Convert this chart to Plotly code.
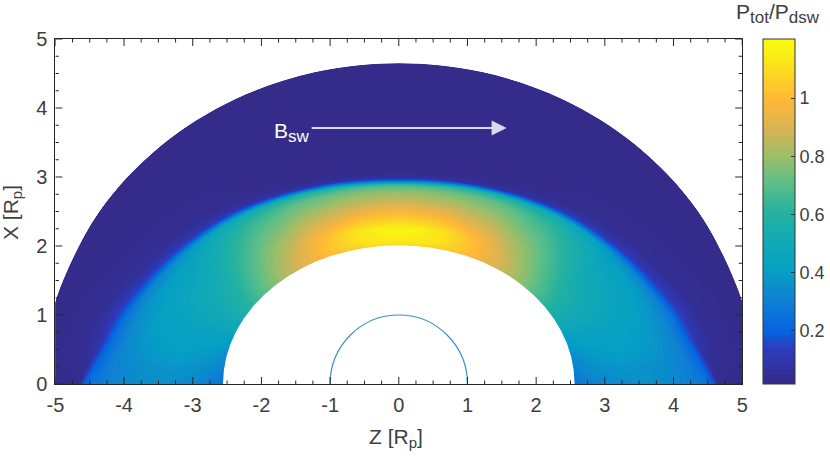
import plotly.graph_objects as go
import numpy as np

# Rows: angle from the +X axis (deg), one side; the other side mirrors it
angles = [0, 15, 30, 45, 60, 75, 82, 86, 90]
# Position of the bow shock along each row (R_p)
shock_r = [2.93, 3.00, 3.17, 3.43, 3.74, 4.13, 4.31, 4.48, 4.62]
# Fractions: inner boundary -> shock, then shock -> outer boundary
layer_in = [0, .1, .25, .4, .55, .7, .85, .95, 1]
layer_out = [.03, .08, .15, .3, .6, 1]
# Ptot/Pdsw
ptot = [
    [1.08, 1.15, 1.18, 1.07, .97, .87, .78, .66, .30, .08, .03, .025, .025, .025, .025],
    [1.05, 1.12, 1.13, 1.03, .93, .84, .75, .62, .28, .07, .03, .025, .025, .025, .025],
    [.98, 1.00, .98, .92, .85, .78, .70, .58, .27, .08, .035, .025, .025, .025, .025],
    [.85, .84, .80, .76, .71, .66, .59, .49, .27, .14, .07, .04, .03, .025, .025],
    [.64, .63, .59, .55, .51, .47, .42, .35, .22, .15, .10, .06, .035, .025, .025],
    [.40, .42, .43, .43, .42, .40, .35, .27, .18, .16, .13, .09, .05, .03, .025],
    [.33, .36, .39, .40, .39, .37, .32, .24, .17, .15, .11, .08, .05, .03, .025],
    [.29, .33, .36, .37, .36, .34, .30, .22, .13, .08, .06, .05, .04, .03, .025],
    [.25, .29, .33, .35, .35, .33, .29, .24, .14, .05, .03, .025, .025, .025, .025],
]
x_ticks = [-5, -4, -3, -2, -1, 0, 1, 2, 3, 4, 5]
x_labels = ["-5", "-4", "-3", "-2", "-1", "0", "1", "2", "3", "4", "5"]
y_ticks = [0, 1, 2, 3, 4, 5]
colorbar_ticks = [0.2, 0.4, 0.6, 0.8, 1]
colorbar_labels = ["0.2", "0.4", "0.6", "0.8", "1"]
parula = [
    [0, "rgb(53,42,135)"], [.106, "rgb(45,60,190)"], [.155, "rgb(5,100,225)"],
    [.25, "rgb(15,130,210)"], [.33, "rgb(5,160,195)"], [.425, "rgb(20,170,180)"],
    [.496, "rgb(35,178,160)"], [.59, "rgb(95,190,135)"], [.665, "rgb(155,190,105)"],
    [.744, "rgb(215,180,85)"], [.83, "rgb(255,183,55)"], [.93, "rgb(250,225,30)"],
    [1, "rgb(249,251,14)"],
]
ZMIN, ZMAX = 0.017, 1.203

# Geometry of the grid
th_half = np.radians(angles)
th = np.concatenate([-th_half[:0:-1], th_half])
sh = np.array(shock_r[:0:-1] + shock_r)
vals = np.array(ptot[:0:-1] + ptot)


def ellipse(a, b, t):
    return 1 / np.sqrt((np.sin(t) / a) ** 2 + (np.cos(t) / b) ** 2)


r_in = ellipse(2.55, 2.0, th)
r_out = ellipse(5.17, 4.65, th)
ri = np.outer(r_in, 1 - np.array(layer_in)) + np.outer(sh, layer_in)
ro = np.outer(sh, 1 - np.array(layer_out)) + np.outer(r_out, layer_out)
rr = np.hstack([ri, ro])
Z = rr * np.sin(th)[:, None]
X = rr * np.cos(th)[:, None]
aa = list(range(rr.shape[1]))
bb = list(range(rr.shape[0]))

W, H = 830, 459
L, R, T, B = 55.5, 744, 39, 384
TXT = "#404040"
TICK = "#262626"
FONT = "Liberation Sans"
hidden = dict(showgrid=False, startline=False, endline=False, showticklabels="none",
              smoothing=1, minorgridcount=0)
fig = go.Figure()
fig.add_trace(go.Carpet(a=aa, b=bb, x=Z.tolist(), y=X.tolist(), carpet="c", aaxis=hidden, baxis=hidden))
fig.add_trace(go.Contourcarpet(
    a=aa, b=bb, z=vals.tolist(), carpet="c",
    autocontour=False, contours=dict(start=ZMIN, end=ZMAX, size=0.012, coloring="fill", showlines=False),
    line=dict(width=0), colorscale=parula, zmin=ZMIN, zmax=ZMAX,
    colorbar=dict(
        x=765 / W, xanchor="left", xref="paper", y=(H - B) / H, yanchor="bottom", yref="paper",
        len=(B - T) / H, lenmode="fraction", thickness=32, thicknessmode="pixels",
        tickmode="array", tickvals=colorbar_ticks, ticktext=colorbar_labels, tickprefix="\u00a0",
        ticks="inside", ticklen=4, tickcolor="#333", outlinecolor="#333", outlinewidth=1,
        tickfont=dict(family=FONT, size=18, color=TXT), xpad=0, ypad=0,
    ),
))


def tick_shapes():
    out = []
    line = dict(color=TICK, width=1)
    for k in range(41):
        v = -5 + k * 0.25
        n = 7 if k % 4 == 0 else 3.5
        for anchor, sign in ((0, 1), (5, -1)):
            out.append(dict(type="line", xref="x", yref="y", x0=v, x1=v, ysizemode="pixel",
                            yanchor=anchor, y0=0, y1=sign * n, line=line))
    for k in range(21):
        v = k * 0.25
        n = 7 if k % 4 == 0 else 3.5
        for anchor, sign in ((-5, 1), (5, -1)):
            out.append(dict(type="line", xref="x", yref="y", y0=v, y1=v, xsizemode="pixel",
                            xanchor=anchor, x0=0, x1=sign * n, line=line))
    return out


axis = dict(
    showgrid=False, zeroline=False, showline=True, linecolor=TICK, linewidth=1, mirror=True,
    ticks="", ticklabelstandoff=3,
    tickfont=dict(family=FONT, size=20, color=TXT), automargin=False, layer="above traces",
)
fig.update_layout(
    width=W, height=H, margin=dict(l=0, r=0, t=0, b=0), autosize=False,
    paper_bgcolor="white", plot_bgcolor="white", showlegend=False,
    xaxis=dict(axis, range=[-5, 5], tickmode="array", tickvals=x_ticks, ticktext=x_labels, tickangle=0,
               domain=[L / W, R / W]),
    yaxis=dict(axis, range=[0, 5], tickmode="array", tickvals=y_ticks,
               domain=[(H - B) / H, (H - T) / H]),
    shapes=[
        dict(type="circle", xref="x", yref="y", x0=-2.56, x1=2.56, y0=-2.01, y1=2.01,
             fillcolor="white", line=dict(width=0)),
        dict(type="circle", xref="x", yref="y", x0=-1, x1=1, y0=-1, y1=1,
             line=dict(color="#3d8fd1", width=1.2)),
    ] + tick_shapes(),
    annotations=[
        dict(x=1.57, y=3.71, ax=-1.29, ay=3.71, xref="x", yref="y", axref="x", ayref="y",
             text="", showarrow=True, arrowhead=2, arrowsize=1.5, arrowwidth=2, arrowcolor="#dcd8ee"),
        dict(x=-1.27, y=3.64, xref="x", yref="y", xanchor="right", yanchor="middle", showarrow=False,
             text="B<sub><span style='font-size:17px'>sw</span></sub>", font=dict(family=FONT, size=21, color="white")),
        dict(x=780 / W, y=(H - 29) / H, xref="paper", yref="paper", xanchor="center", yanchor="bottom", showarrow=False,
             text="P<sub><span style='font-size:17px'>tot</span></sub>/P<sub><span style='font-size:17px'>dsw</span></sub>",
             font=dict(family=FONT, size=21, color=TXT)),
        dict(x=397 / W, y=(H - 438) / H, xref="paper", yref="paper", xanchor="center", yanchor="middle", showarrow=False,
             text="Z [R<sub><span style='font-size:15px'>p</span></sub>]", font=dict(family=FONT, size=21, color=TXT)),
        dict(x=12 / W, y=(H - 212) / H, xref="paper", yref="paper", xanchor="center", yanchor="middle", showarrow=False,
             textangle=-90, text="X [R<sub><span style='font-size:15px'>p</span></sub>]", font=dict(family=FONT, size=21, color=TXT)),
    ],
)
fig.write_html("out.html", config=dict(displayModeBar=False),
               post_script="document.body.style.margin='0';document.documentElement.style.overflow='hidden';")
